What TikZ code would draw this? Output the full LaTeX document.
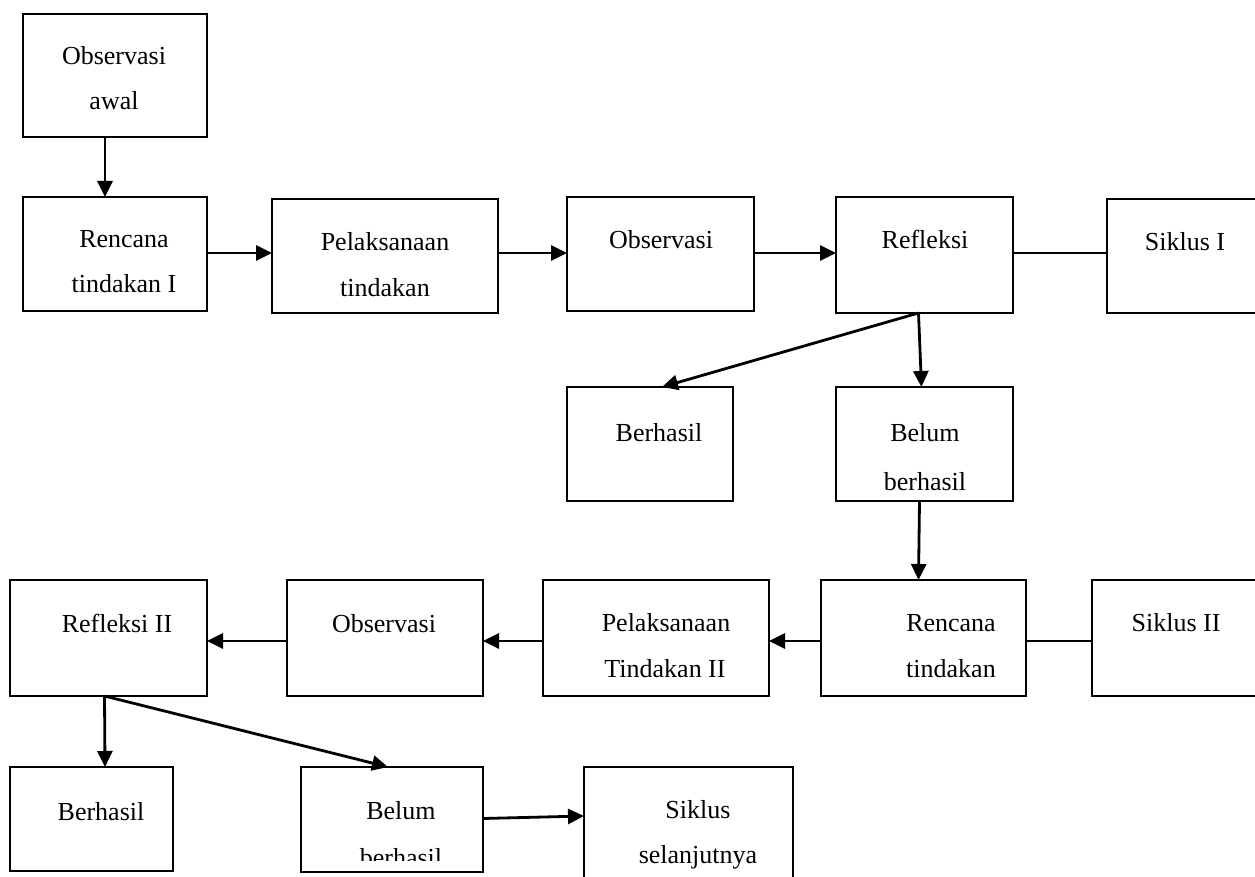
\documentclass[tikz,border=0pt]{standalone}
\usepackage{fontspec}
\setmainfont{Liberation Serif}
\usetikzlibrary{arrows.meta,calc}
\begin{document}
\begin{tikzpicture}[x=1pt,y=-1pt,
  boxstyle/.style={draw, line width=1.8pt, inner sep=0pt, outer sep=0pt},
  txt/.style={anchor=base, inner sep=0pt, font=\fontsize{26}{45}\selectfont},
  arr/.style={line width=2.8pt, -{Triangle[length=16pt,width=15pt]}},
  plain/.style={line width=2pt}]
\clip (0,0) rectangle (1255,877);
% boxes
\newcommand{\mybox}[5]{\node[boxstyle, minimum width={#4-#2}, minimum height={#5-#3}] (#1) at ({(#2+#4)/2},{(#3+#5)/2}) {};}
\mybox{oa}{23}{14}{207}{137}
\mybox{ra}{23}{197}{207}{311}
\mybox{pa}{272}{199}{498}{313}
\mybox{oba}{567}{197}{754}{311}
\mybox{fa}{836}{197}{1013}{313}
\mybox{sa}{1107}{199}{1275}{313}
\mybox{ba}{567}{387}{733}{501}
\mybox{bba}{836}{387}{1013}{501}
\mybox{fb}{10}{580}{207}{696}
\mybox{obb}{287}{580}{483}{696}
\mybox{pb}{543}{580}{769}{696}
\mybox{rb}{821}{580}{1026}{696}
\mybox{sb}{1092}{580}{1275}{696}
\mybox{bb}{10}{767}{173}{871}
\mybox{bbb}{301}{767}{483}{872}
\mybox{nx}{584}{767}{793}{895}
% texts
\node[txt] (toa1) at (114,65) {Observasi};
\node[txt] (toa2) at (114,110) {awal};
\node[txt] (tra1) at (124,248) {Rencana};
\node[txt] (tra2) at (124,293) {tindakan I};
\node[txt] (tpa1) at (385,251) {Pelaksanaan};
\node[txt] (tpa2) at (385,296) {tindakan};
\node[txt] (toba) at (661,249) {Observasi};
\node[txt] (tfa) at (925,249) {Refleksi};
\node[txt] (tsa) at (1185,251) {Siklus I};
\node[txt] (tba) at (659,441) {Berhasil};
\node[txt] (tbba1) at (925,441) {Belum};
\node[txt] (tbba2) at (925,490) {berhasil};
\node[txt] (tfb) at (117,632) {Refleksi II};
\node[txt] (tobb) at (384,632) {Observasi};
\node[txt] (tpb1) at (666,631) {Pelaksanaan};
\node[txt] (tpb2) at (665,677) {Tindakan II};
\node[txt] (trb1) at (951,631) {Rencana};
\node[txt] (trb2) at (951,677) {tindakan};
\node[txt] (tsb) at (1176,631) {Siklus II};
\node[txt] (tbb) at (101,820) {Berhasil};
\node[txt] (tbbb1) at (401,819) {Belum};
\begin{scope}
\clip (301,767) rectangle (483,860);
\node[txt] (tbbb2) at (401,866) {berhasil};
\end{scope}
\node[txt] (tnx1) at (698,818) {Siklus};
\node[txt] (tnx2) at (698,863) {selanjutnya};
% connectors
\draw[arr] ($(oa.south)+(-10,0)$) -- ($(ra.north)+(-10,0)$);
\draw[arr] ($(ra.east)+(0,-1)$) -- ($(pa.west)+(0,-3)$);
\draw[arr] ($(pa.east)+(0,-3)$) -- ($(oba.west)+(0,-1)$);
\draw[arr] ($(oba.east)+(0,-1)$) -- ($(fa.west)+(0,-2)$);
\draw[plain] ($(fa.east)+(0,-2)$) -- ($(sa.west)+(0,-3)$);
\draw[arr] ($(fa.south)+(-6,0)$) -- ($(ba.north)+(12,0)$);
\draw[arr] ($(fa.south)+(-6,0)$) -- ($(bba.north)+(-3,0)$);
\draw[arr] ($(bba.south)+(-5,0)$) -- ($(rb.north)+(-5,0)$);
\draw[plain] ($(sb.west)+(0,3)$) -- ($(rb.east)+(0,3)$);
\draw[arr] ($(rb.west)+(0,3)$) -- ($(pb.east)+(0,3)$);
\draw[arr] ($(pb.west)+(0,3)$) -- ($(obb.east)+(0,3)$);
\draw[arr] ($(obb.west)+(0,3)$) -- ($(fb.east)+(0,3)$);
\draw[arr] ($(fb.south)+(-4,0)$) -- ($(bb.north)+(13.5,0)$);
\draw[arr] ($(fb.south)+(-4,0)$) -- ($(bbb.north)+(-4,0)$);
\draw[arr] ($(bbb.east)+(0,-1)$) -- ($(nx.north west)+(0,49)$);
\end{tikzpicture}
\end{document}
